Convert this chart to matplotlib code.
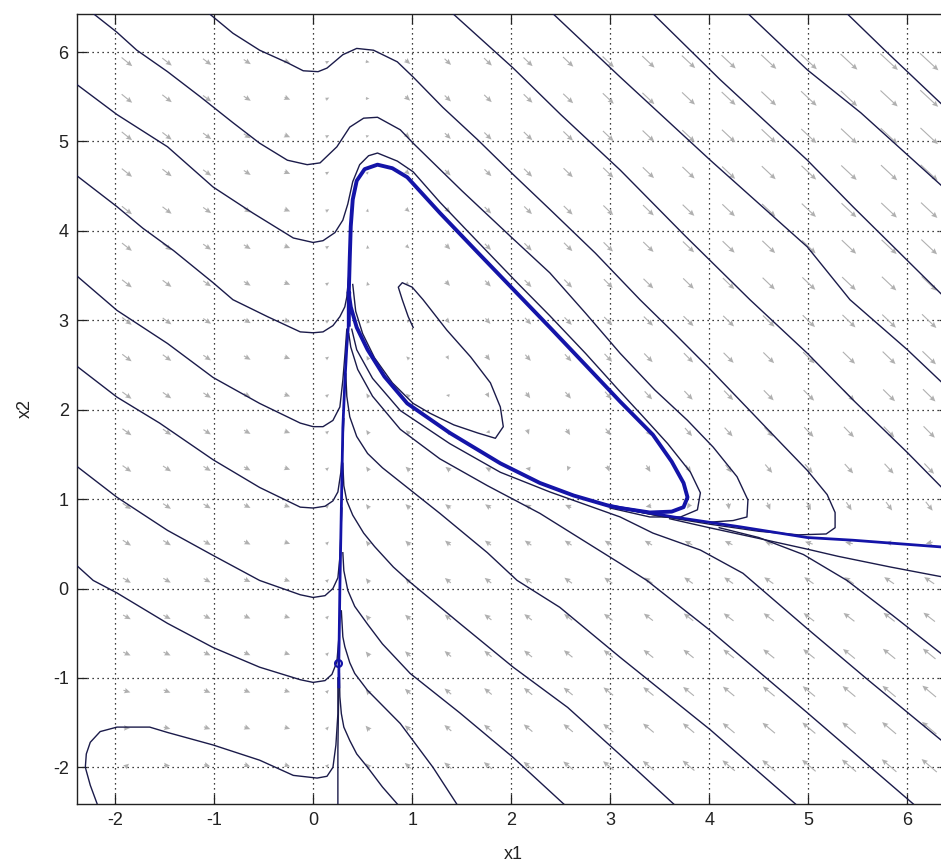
import numpy as np
import matplotlib
matplotlib.use("Agg")
import matplotlib.pyplot as plt

plt.rcParams['font.family'] = ['Liberation Sans', 'DejaVu Sans']

# ---------------- axis text ----------------
XLABEL = 'x1'
YLABEL = 'x2'
XTICKS = [-2, -1, 0, 1, 2, 3, 4, 5, 6]
YTICKS = [-2, -1, 0, 1, 2, 3, 4, 5, 6]

# ---------------- direction field (read at each arrow) ----------------
ARROW_X1 = [-1.88, -1.475, -1.07, -0.665, -0.26, 0.145, 0.55, 0.955, 1.36, 1.765, 2.17,
            2.575, 2.98, 3.385, 3.79, 4.195, 4.6, 5.005, 5.41, 5.815, 6.22]
ARROW_X2 = [5.89, 5.48, 5.06, 4.65, 4.23, 3.82, 3.41, 2.99, 2.58, 2.16, 1.75, 1.34, 0.92,
            0.51, 0.09, -0.32, -0.73, -1.15, -1.56, -1.98]
# one list per arrow column (top row first): x1-rate and x2-rate
DX1 = [
    [29.3, 27.8, 26.4, 24.9, 23.5, 22.0, 20.6, 19.1, 17.6, 16.2, 14.7, 13.3, 11.8, 10.3, 8.8, 7.4, 5.9, 4.4, 3.0, 1.5],
    [19.7, 18.8, 17.9, 17.0, 16.1, 15.2, 14.3, 13.4, 12.5, 11.6, 10.7, 9.8, 8.9, 8.0, 7.1, 6.2, 5.3, 4.4, 3.5, 2.6],
    [12.0, 11.6, 11.1, 10.6, 10.1, 9.7, 9.2, 8.7, 8.2, 7.8, 7.3, 6.8, 6.3, 5.9, 5.4, 4.9, 4.4, 4.0, 3.5, 3.0],
    [6.3, 6.1, 5.9, 5.7, 5.5, 5.4, 5.2, 5.0, 4.8, 4.6, 4.4, 4.3, 4.1, 3.9, 3.7, 3.5, 3.3, 3.2, 3.0, 2.8],
    [2.44, 2.41, 2.38, 2.35, 2.33, 2.30, 2.27, 2.24, 2.21, 2.19, 2.16, 2.13, 2.10, 2.07, 2.05, 2.02, 1.99, 1.96, 1.93, 1.91],
    [0.54, 0.54, 0.53, 0.52, 0.51, 0.50, 0.49, 0.48, 0.47, 0.47, 0.46, 0.45, 0.44, 0.43, 0.42, 0.41, 0.41, 0.40, 0.39, 0.38],
    [0.58, 0.46, 0.33, 0.21, 0.08, -0.04, -0.17, -0.30, -0.42, -0.55, -0.67, -0.79, -0.92, -1.05, -1.17, -1.30, -1.42, -1.55, -1.67, -1.80],
    [2.55, 2.18, 1.79, 1.42, 1.04, 0.66, 0.29, -0.09, -0.47, -0.85, -1.22, -1.60, -1.98, -2.35, -2.74, -3.11, -3.49, -3.87, -4.24, -4.63],
    [6.46, 5.70, 4.92, 4.16, 3.39, 2.63, 1.87, 1.09, 0.33, -0.44, -1.20, -1.96, -2.74, -3.50, -4.27, -5.03, -5.79, -6.57, -7.33, -8.10],
    [12.3, 11.0, 9.7, 8.4, 7.1, 5.8, 4.6, 3.3, 2.0, 0.67, -0.61, -1.9, -3.2, -4.5, -5.8, -7.1, -8.3, -9.6, -10.9, -12.2],
    [20.1, 18.1, 16.2, 14.2, 12.2, 10.3, 8.4, 6.4, 4.5, 2.5, 0.56, -1.4, -3.4, -5.3, -7.3, -9.2, -11.1, -13.1, -15.0, -17.0],
    [29.8, 27.0, 24.3, 21.5, 18.8, 16.0, 13.3, 10.5, 7.8, 5.0, 2.3, -0.4, -3.2, -5.9, -8.7, -11.4, -14.1, -16.9, -19.6, -22.4],
    [41.4, 37.7, 34.0, 30.4, 26.6, 23.0, 19.4, 15.6, 12.0, 8.3, 4.6, 1.0, -2.8, -6.4, -10.1, -13.8, -17.4, -21.1, -24.8, -28.5],
    [54.9, 50.2, 45.4, 40.7, 35.9, 31.2, 26.5, 21.7, 17.0, 12.2, 7.5, 2.8, -2.0, -6.7, -11.5, -16.2, -20.9, -25.7, -30.4, -35.2],
    [70.4, 64.6, 58.5, 52.6, 46.6, 40.7, 34.8, 28.8, 22.9, 16.9, 11.0, 5.1, -1.0, -6.8, -12.9, -18.8, -24.7, -30.7, -36.6, -42.6],
    [87.9, 80.7, 73.3, 66.1, 58.7, 51.4, 44.2, 36.8, 29.6, 22.2, 15.0, 7.8, 0.4, -6.8, -14.2, -21.4, -28.6, -36.0, -43.2, -50.6],
    [107.2, 98.6, 89.7, 81.0, 72.1, 63.4, 54.8, 45.9, 37.2, 28.3, 19.6, 11.0, 2.1, -6.6, -15.5, -24.2, -32.9, -41.7, -50.4, -59.3],
    [128.5, 118.3, 107.8, 97.5, 87.0, 76.7, 66.4, 55.9, 45.6, 35.1, 24.8, 14.6, 4.0, -6.2, -16.7, -27.0, -37.3, -47.8, -58.1, -68.6],
    [151.8, 139.8, 127.5, 115.5, 103.2, 91.2, 79.2, 66.9, 54.9, 42.6, 30.6, 18.6, 6.3, -5.7, -18.0, -30.0, -42.0, -54.3, -66.3, -78.6],
    [176.8, 163.0, 148.8, 134.9, 120.7, 106.9, 93.0, 78.8, 64.9, 50.7, 36.9, 23.0, 8.8, -5.1, -19.3, -33.1, -47.0, -61.2, -75.0, -89.2],
    [204.0, 188.1, 171.9, 156.0, 139.8, 123.9, 108.0, 91.8, 75.9, 59.7, 43.8, 27.9, 11.7, -4.2, -20.4, -36.3, -52.1, -68.4, -84.3, -100.5],
]
DX2 = [
    [-26.4, -24.9, -23.5, -22.0, -20.6, -19.1, -17.7, -16.2, -14.7, -13.3, -11.8, -10.4, -8.9, -7.4, -5.9, -4.5, -3.0, -1.5, -0.1, 1.4],
    [-17.2, -16.3, -15.4, -14.5, -13.6, -12.7, -11.8, -10.9, -10.0, -9.1, -8.2, -7.3, -6.4, -5.5, -4.6, -3.7, -2.8, -1.9, -1.0, -0.1],
    [-9.9, -9.5, -9.0, -8.5, -8.0, -7.6, -7.1, -6.6, -6.1, -5.7, -5.2, -4.7, -4.2, -3.8, -3.3, -2.8, -2.3, -1.9, -1.4, -0.9],
    [-4.6, -4.4, -4.2, -4.1, -3.9, -3.7, -3.5, -3.3, -3.1, -2.9, -2.8, -2.6, -2.4, -2.2, -2.0, -1.8, -1.7, -1.5, -1.3, -1.1],
    [-1.18, -1.15, -1.12, -1.09, -1.07, -1.04, -1.01, -0.98, -0.95, -0.93, -0.90, -0.87, -0.84, -0.81, -0.79, -0.76, -0.73, -0.70, -0.67, -0.65],
    [0.31, 0.32, 0.33, 0.34, 0.35, 0.36, 0.37, 0.37, 0.38, 0.39, 0.40, 0.41, 0.42, 0.43, 0.43, 0.44, 0.45, 0.46, 0.47, 0.48],
    [-0.13, -0.01, 0.12, 0.24, 0.37, 0.49, 0.62, 0.75, 0.87, 1.00, 1.12, 1.24, 1.37, 1.50, 1.62, 1.75, 1.87, 2.00, 2.12, 2.25],
    [-2.51, -2.14, -1.75, -1.38, -1.00, -0.62, -0.25, 0.13, 0.51, 0.89, 1.26, 1.64, 2.02, 2.40, 2.78, 3.15, 3.53, 3.91, 4.29, 4.67],
    [-6.82, -6.06, -5.28, -4.52, -3.75, -2.99, -2.23, -1.45, -0.69, 0.08, 0.84, 1.60, 2.38, 3.14, 3.91, 4.67, 5.43, 6.21, 6.97, 7.74],
    [-13.1, -11.8, -10.5, -9.2, -7.9, -6.6, -5.3, -4.0, -2.8, -1.4, -0.16, 1.1, 2.4, 3.7, 5.0, 6.3, 7.6, 8.9, 10.2, 11.5],
    [-21.2, -19.3, -17.3, -15.4, -13.4, -11.5, -9.6, -7.6, -5.6, -3.7, -1.7, 0.2, 2.2, 4.1, 6.1, 8.0, 10.0, 11.9, 13.9, 15.8],
    [-31.3, -28.6, -25.8, -23.1, -20.3, -17.6, -14.9, -12.1, -9.4, -6.6, -3.9, -1.2, 1.6, 4.3, 7.1, 9.8, 12.6, 15.4, 18.1, 20.9],
    [-43.4, -39.7, -36.0, -32.4, -28.6, -25.0, -21.4, -17.6, -14.0, -10.3, -6.6, -3.0, 0.8, 4.4, 8.1, 11.8, 15.4, 19.2, 22.8, 26.5],
    [-57.3, -52.6, -47.8, -43.1, -38.3, -33.6, -28.9, -24.1, -19.4, -14.6, -9.9, -5.2, -0.4, 4.3, 9.1, 13.8, 18.5, 23.3, 28.0, 32.8],
    [-73.2, -67.4, -61.3, -55.4, -49.4, -43.5, -37.6, -31.6, -25.7, -19.7, -13.8, -7.9, -1.8, 4.0, 10.1, 16.0, 21.9, 27.9, 33.8, 39.8],
    [-91.1, -83.9, -76.5, -69.3, -61.9, -54.6, -47.4, -40.0, -32.8, -25.4, -18.2, -11.0, -3.6, 3.6, 11.0, 18.2, 25.4, 32.8, 40.0, 47.4],
    [-110.8, -102.2, -93.3, -84.6, -75.7, -67.0, -58.4, -49.5, -40.8, -31.9, -23.2, -14.6, -5.7, 3.0, 11.9, 20.6, 29.3, 38.1, 46.8, 55.7],
    [-132.5, -122.3, -111.8, -101.5, -91.0, -80.7, -70.4, -59.9, -49.6, -39.1, -28.8, -18.6, -8.0, 2.2, 12.7, 23.0, 33.3, 43.8, 54.1, 64.6],
    [-156.2, -144.2, -131.9, -119.9, -107.6, -95.6, -83.6, -71.3, -59.3, -47.0, -35.0, -23.0, -10.7, 1.3, 13.6, 25.6, 37.6, 49.9, 61.9, 74.2],
    [-181.6, -167.8, -153.6, -139.7, -125.5, -111.7, -97.8, -83.6, -69.7, -55.5, -41.7, -27.8, -13.6, 0.3, 14.5, 28.3, 42.2, 56.4, 70.2, 84.4],
    [-209.2, -193.3, -177.1, -161.2, -145.0, -129.1, -113.2, -97.0, -81.1, -64.9, -49.0, -33.1, -16.9, -1.0, 15.2, 31.1, 46.9, 63.2, 79.1, 95.3],
]

# ---------------- trajectories (x1, x2) ----------------
CYCLE_X1 = [0.36, 0.36, 0.37, 0.38, 0.40, 0.44, 0.52, 0.65, 0.80, 0.95, 1.28, 1.66, 2.06, 2.39, 2.75, 3.10, 3.43,
            3.62, 3.74, 3.78, 3.74, 3.62, 3.40, 3.10, 2.97, 2.63, 2.29, 1.89, 1.38, 0.95, 0.72, 0.55, 0.44, 0.38, 0.36]
CYCLE_X2 = [2.95, 3.30, 3.70, 4.05, 4.35, 4.56, 4.69, 4.74, 4.70, 4.60, 4.20, 3.76, 3.30, 2.92, 2.50, 2.09, 1.72,
            1.42, 1.18, 1.02, 0.91, 0.86, 0.85, 0.90, 0.93, 1.04, 1.18, 1.40, 1.74, 2.07, 2.37, 2.67, 2.92, 3.15, 3.30]
VERT_LOW_X1 = [0.25, 0.25, 0.255, 0.26]
VERT_LOW_X2 = [-2.41, -1.80, -1.40, -1.10]
VERT_X1 = [0.26, 0.26, 0.27, 0.28, 0.29, 0.30, 0.32, 0.34, 0.36, 0.37]
VERT_X2 = [-1.10, -0.80, 0.00, 0.60, 1.20, 1.80, 2.30, 2.70, 3.00, 3.30]
TAIL_X1 = [6.40, 5.45, 4.99, 4.31, 3.64, 2.97]
TAIL_X2 = [0.46, 0.54, 0.57, 0.69, 0.80, 0.93]
START_X1 = [0.25]
START_X2 = [-0.83]

C0_X1 = [-1.05, -0.81, -0.54, -0.26, -0.10, 0.05, 0.14, 0.30, 0.44, 0.61, 0.85, 1.01, 1.31, 1.66, 2.02, 2.39,
         2.85, 3.30, 3.65, 4.01, 4.40, 4.72, 4.99, 5.19, 5.27, 5.27, 5.18, 4.90, 4.50, 4.00, 3.50, 3.00]
C0_X2 = [6.43, 6.21, 6.02, 5.88, 5.79, 5.78, 5.82, 5.97, 6.04, 6.02, 5.89, 5.72, 5.38, 5.02, 4.63, 4.24,
         3.75, 3.23, 2.85, 2.45, 2.00, 1.63, 1.32, 1.05, 0.85, 0.68, 0.61, 0.60, 0.64, 0.72, 0.81, 0.92]
C1_X1 = [-2.22, -1.98, -1.78, -1.47, -1.14, -0.81, -0.54, -0.26, -0.06, 0.07, 0.24, 0.37, 0.51, 0.65, 0.88, 1.01,
         1.50, 2.00, 2.39, 2.75, 3.10, 3.45, 3.78, 4.04, 4.28, 4.39, 4.38, 4.24, 3.98, 3.50, 3.00]
C1_X2 = [6.43, 6.22, 6.02, 5.78, 5.50, 5.21, 4.98, 4.79, 4.74, 4.76, 4.94, 5.16, 5.26, 5.27, 5.13, 4.98,
         4.45, 3.93, 3.53, 3.08, 2.63, 2.22, 1.88, 1.58, 1.25, 0.99, 0.80, 0.76, 0.74, 0.81, 0.92]
C2_X1 = [-2.39, -1.98, -1.47, -1.01, -0.61, -0.20, 0.00, 0.10, 0.22, 0.30, 0.35, 0.40, 0.47, 0.56, 0.65, 0.85,
         1.01, 1.28, 1.66, 2.06, 2.39, 2.75, 3.10, 3.35, 3.58, 3.81, 3.91, 3.88, 3.71, 3.40, 3.00]
C2_X2 = [5.64, 5.30, 4.94, 4.49, 4.20, 3.92, 3.87, 3.89, 3.98, 4.12, 4.30, 4.55, 4.74, 4.84, 4.87, 4.78,
         4.66, 4.32, 3.88, 3.42, 3.05, 2.63, 2.20, 1.90, 1.62, 1.30, 1.07, 0.88, 0.80, 0.80, 0.90]
C3_X1 = [-2.39, -1.98, -1.72, -1.41, -1.01, -0.81, -0.46, -0.13, 0.00, 0.10, 0.20, 0.27, 0.32, 0.34, 0.36]
C3_X2 = [4.62, 4.27, 4.03, 3.78, 3.42, 3.23, 3.04, 2.87, 2.86, 2.87, 2.94, 3.04, 3.15, 3.26, 3.50]
C4_X1 = [-2.39, -1.98, -1.47, -1.01, -0.54, -0.13, 0.00, 0.10, 0.20, 0.27, 0.30, 0.32, 0.34]
C4_X2 = [3.50, 3.11, 2.74, 2.36, 2.07, 1.85, 1.81, 1.81, 1.88, 2.03, 2.33, 2.60, 2.90]
C5_X1 = [-2.39, -1.98, -1.55, -1.01, -0.54, -0.13, 0.00, 0.12, 0.20, 0.25, 0.28, 0.30, 0.31]
C5_X2 = [2.49, 2.14, 1.85, 1.44, 1.13, 0.91, 0.90, 0.92, 0.98, 1.08, 1.30, 1.60, 1.90]
C6_X1 = [-2.39, -1.98, -1.47, -1.01, -0.54, -0.13, 0.00, 0.12, 0.20, 0.25, 0.27, 0.28, 0.29]
C6_X2 = [1.37, 1.02, 0.65, 0.37, 0.09, -0.07, -0.10, -0.08, 0.00, 0.12, 0.35, 0.60, 0.90]
C7_X1 = [-2.39, -2.22, -1.98, -1.47, -1.01, -0.54, -0.13, 0.00, 0.12, 0.19, 0.24, 0.26, 0.27]
C7_X2 = [0.26, 0.09, -0.05, -0.39, -0.66, -0.88, -1.02, -1.05, -1.03, -0.96, -0.82, -0.55, -0.25]
C8_X1 = [-2.18, -2.25, -2.30, -2.29, -2.25, -2.15, -1.98, -1.65, -1.47, -1.01, -0.54, -0.20, 0.04, 0.14,
         0.20, 0.23, 0.25, 0.25]
C8_X2 = [-2.41, -2.20, -2.00, -1.85, -1.72, -1.60, -1.55, -1.55, -1.61, -1.75, -1.92, -2.09, -2.12, -2.10,
         -2.00, -1.75, -1.40, -1.00]

B1_X1 = [0.85, 0.70, 0.55, 0.44, 0.37, 0.31, 0.285, 0.27, 0.265]
B1_X2 = [-2.41, -2.22, -2.00, -1.85, -1.70, -1.55, -1.40, -1.21, -0.95]
B2_X1 = [1.45, 1.21, 0.88, 0.55, 0.42, 0.37, 0.32, 0.30, 0.285]
B2_X2 = [-2.41, -2.00, -1.51, -1.14, -0.95, -0.83, -0.65, -0.54, -0.25]
B3_X1 = [2.53, 2.02, 1.48, 0.98, 0.70, 0.55, 0.42, 0.35, 0.31, 0.30]
B3_X2 = [-2.41, -1.89, -1.39, -0.95, -0.62, -0.40, -0.20, -0.02, 0.20, 0.40]
B4_X1 = [3.64, 3.10, 2.57, 2.02, 1.48, 0.98, 0.81, 0.62, 0.51, 0.40, 0.34, 0.31, 0.30]
B4_X2 = [-2.41, -1.86, -1.33, -0.88, -0.39, 0.07, 0.24, 0.47, 0.62, 0.82, 0.98, 1.15, 1.40]
B5_X1 = [4.87, 4.01, 3.10, 2.49, 2.06, 1.76, 1.28, 0.95, 0.70, 0.55, 0.44, 0.37, 0.34, 0.33]
B5_X2 = [-2.41, -1.58, -0.77, -0.21, 0.09, 0.40, 0.84, 1.13, 1.35, 1.51, 1.70, 1.92, 2.15, 2.40]
B6_X1 = [6.06, 4.99, 4.01, 3.37, 3.10, 2.29, 1.76, 1.28, 0.88, 0.60, 0.45, 0.38, 0.36]
B6_X2 = [-2.41, -1.39, -0.47, 0.09, 0.28, 0.84, 1.15, 1.45, 1.78, 2.15, 2.45, 2.70, 2.85]
A_X1 = [6.40, 5.60, 4.99, 4.34, 3.91, 3.43, 3.10, 2.39, 1.89, 1.38, 0.88, 0.60, 0.44, 0.39]
A_X2 = [-1.75, -1.02, -0.45, 0.17, 0.43, 0.62, 0.80, 1.08, 1.30, 1.62, 1.99, 2.35, 2.67, 2.90]
R1_X1 = [6.40, 5.83, 5.30, 4.99, 4.50, 4.00, 3.60]
R1_X2 = [0.12, 0.24, 0.36, 0.44, 0.56, 0.68, 0.78]
R2_X1 = [6.40, 5.85, 5.39, 4.95, 4.50, 4.10]
R2_X2 = [-0.78, -0.30, 0.09, 0.38, 0.57, 0.68]

U5_X1 = [1.41, 2.02, 2.50, 3.10, 3.75, 4.41, 4.99, 5.45, 6.00, 6.40]
U5_X2 = [6.43, 5.82, 5.30, 4.68, 3.95, 3.23, 2.63, 2.11, 1.52, 1.07]
U4_X1 = [2.42, 3.10, 4.01, 4.99, 5.42, 6.00, 6.40]
U4_X2 = [6.43, 5.72, 4.79, 3.82, 3.23, 2.67, 2.25]
U1_X1 = [3.43, 4.11, 4.99, 5.45, 6.40]
U1_X2 = [6.43, 5.69, 4.79, 4.27, 3.23]
U2_X1 = [4.39, 4.99, 5.53, 6.40]
U2_X2 = [6.43, 5.80, 5.32, 4.45]
U3_X1 = [5.39, 5.80, 6.40]
U3_X2 = [6.43, 5.99, 5.36]

LOOP_X1 = [1.01, 0.96, 0.90, 0.86, 0.90, 1.00, 1.11, 1.35, 1.59, 1.79, 1.89, 1.92, 1.84, 1.66, 1.42, 1.18,
           1.01, 0.80, 0.62, 0.50, 0.43, 0.40]
LOOP_X2 = [2.92, 3.04, 3.23, 3.37, 3.42, 3.37, 3.23, 2.89, 2.59, 2.30, 2.03, 1.81, 1.68, 1.74, 1.83, 1.96,
           2.07, 2.30, 2.58, 2.85, 3.10, 3.40]

THIN = [(C0_X1, C0_X2), (C1_X1, C1_X2), (C2_X1, C2_X2), (C3_X1, C3_X2), (C4_X1, C4_X2),
        (C5_X1, C5_X2), (C6_X1, C6_X2), (C7_X1, C7_X2), (C8_X1, C8_X2),
        (B1_X1, B1_X2), (B2_X1, B2_X2), (B3_X1, B3_X2), (B4_X1, B4_X2), (B5_X1, B5_X2),
        (B6_X1, B6_X2), (A_X1, A_X2), (R1_X1, R1_X2), (R2_X1, R2_X2),
        (U1_X1, U1_X2), (U2_X1, U2_X2), (U3_X1, U3_X2), (U4_X1, U4_X2), (U5_X1, U5_X2),
        (LOOP_X1, LOOP_X2), (VERT_LOW_X1, VERT_LOW_X2)]

# ---------------- figure ----------------
W, H = 941, 866
fig = plt.figure(figsize=(W / 100, H / 100), dpi=100)
ax = fig.add_axes([77 / W, 62 / H, 872 / W, 790 / H])
ax.set_xlim(-2.384, 6.42)
ax.set_ylim(-2.41, 6.425)

ax.set_xticks(XTICKS)
ax.set_yticks(YTICKS)
ax.set_xticklabels([str(t) for t in XTICKS])
ax.set_yticklabels([str(t) for t in YTICKS])
ax.tick_params(direction='in', length=7.5, width=0.9, top=True, right=True,
               labelsize=13, pad=6, colors='#222222')
ax.grid(True, color='black', linestyle=(0, (1, 3.0)), linewidth=0.9)
ax.set_axisbelow(True)
for s in ax.spines.values():
    s.set_linewidth(1.0)
    s.set_color('#222222')
ax.set_xlabel(XLABEL, fontsize=13, labelpad=12, color='#222222')
ax.set_ylabel(YLABEL, fontsize=13, labelpad=14, color='#222222')

# arrows: screen direction of the field, length growing gently with speed
fig.canvas.draw()
p0 = ax.transData.transform((0.0, 0.0))
p1 = ax.transData.transform((1.0, 1.0))
sx, sy = p1 - p0
F1 = np.array(DX1).T
F2 = np.array(DX2).T
GX, GY = np.meshgrid(ARROW_X1, ARROW_X2)
su = F1 * sx
sv = F2 * sy
sn = np.hypot(su, sv)
mag = np.hypot(F1, F2)
L = 25.0 * (mag / 290.0) ** 0.3
ax.quiver(GX, GY, su / sn * L, sv / sn * L, angles='uv', scale_units='dots', scale=1,
          units='dots', width=1.1, headwidth=5, headlength=5.5, headaxislength=4.8,
          pivot='middle', color='#b0b0b0', zorder=2)

THIN_COLOR = '#1b1b4a'
BLUE = '#1414a8'
for x1, x2 in THIN:
    ax.plot(x1, x2, color=THIN_COLOR, lw=1.0, zorder=3, solid_joinstyle='round')
ax.plot(VERT_X1, VERT_X2, color=BLUE, lw=2.0, zorder=4)
ax.plot(CYCLE_X1, CYCLE_X2, color=BLUE, lw=2.8, zorder=4, solid_joinstyle='round')
ax.plot(TAIL_X1, TAIL_X2, color=BLUE, lw=2.0, zorder=4)
ax.plot(START_X1, START_X2, 'o', ms=5, mfc='none', mec=BLUE, mew=1.5, zorder=5)

fig.savefig('out.png', dpi=100)
